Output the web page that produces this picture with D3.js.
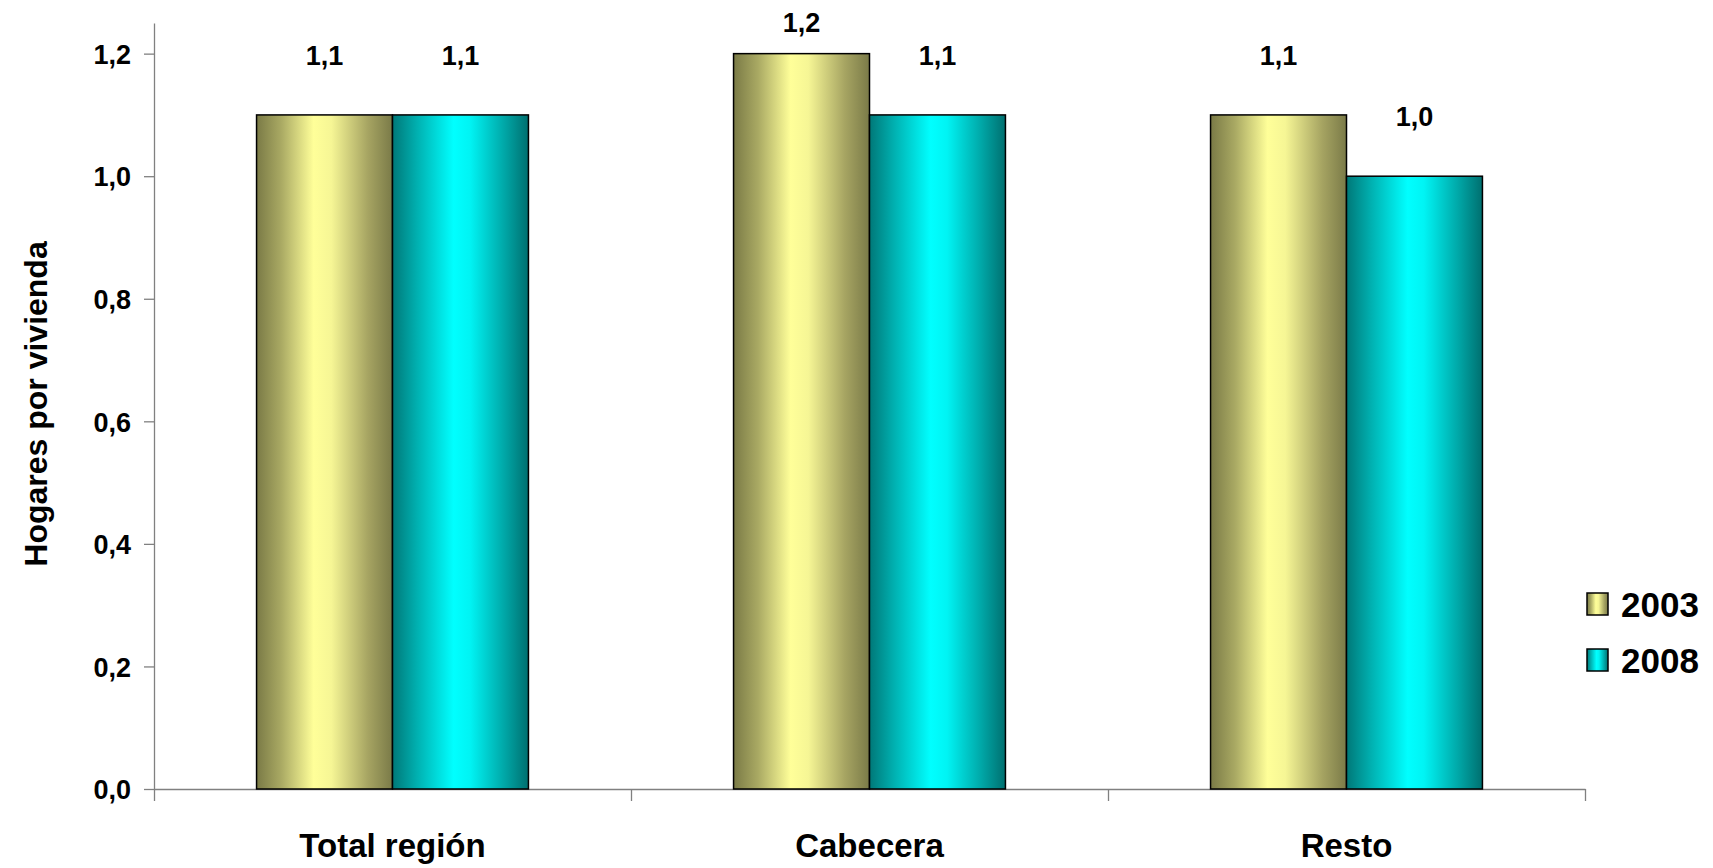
<!DOCTYPE html>
<html><head><meta charset="utf-8">
<script src="https://cdn.jsdelivr.net/npm/d3@7"></script>
<style>html,body{margin:0;padding:0;background:#fff;}svg{display:block;font-family:"Liberation Sans",Arial,sans-serif;font-weight:bold;}</style>
</head><body>
<script>
const categories = ["Total región", "Cabecera", "Resto"];
const seriesNames = ["2003", "2008"];
const values2003 = [1.1, 1.2, 1.1];
const values2008 = [1.1, 1.1, 1.0];
const yTicks = [0, 0.2, 0.4, 0.6, 0.8, 1.0, 1.2];
const yTitle = "Hogares por vivienda";

const W = 1713, H = 868;
const svg = d3.select("body").append("svg").attr("width", W).attr("height", H);
const defs = svg.append("defs");
const grads = {
  "2003": [["0%","#7a7a46"],["18%","#a9a963"],["42%","#ffff99"],["55%","#f6f695"],["82%","#a6a462"],["100%","#7a7a48"]],
  "2008": [["0%","#007878"],["18%","#00b0b0"],["45%","#00ffff"],["57%","#00f4f4"],["82%","#00a8a8"],["100%","#006f6f"]]
};
seriesNames.forEach((s, i) => {
  const g = defs.append("linearGradient").attr("id", "g" + i).attr("x1", 0).attr("x2", 1).attr("y1", 0).attr("y2", 0);
  grads[s].forEach(([o, c]) => g.append("stop").attr("offset", o).attr("stop-color", c));
});

const mLeft = 154, mRight = 1585, mBottom = 789, mTop = 23;
const y = d3.scaleLinear().domain([0, 1.25]).range([mBottom, mTop]);
const xCat = d3.scaleBand().domain(categories).range([mLeft, mRight]).padding(0);
const step = xCat.bandwidth();
const gap = step * 0.43;
const xSer = d3.scaleBand().domain(seriesNames).range([gap / 2, step - gap / 2]).padding(0);

const fmt = v => d3.format(".1f")(v).replace(".", ",");

// Y axis
const yAxis = svg.append("g").attr("transform", `translate(${mLeft},0)`)
  .call(d3.axisLeft(y).tickValues(yTicks).tickSize(10).tickSizeOuter(0).tickFormat(fmt));
yAxis.select(".domain").attr("stroke", "#808080").attr("stroke-width", 1.3);
yAxis.selectAll(".tick line").attr("stroke", "#808080").attr("stroke-width", 1.3);
yAxis.selectAll(".tick text").attr("font-size", 27).attr("font-weight", "bold").attr("fill", "#000")
  .attr("font-family", "'Liberation Sans', Arial, sans-serif").attr("x", -23).attr("dy", "0.36em");

// Bottom axis (category boundaries)
const xb = d3.scaleLinear().domain([0, categories.length]).range([mLeft, mRight]);
const xAxis = svg.append("g").attr("transform", `translate(0,${mBottom})`)
  .call(d3.axisBottom(xb).tickValues(d3.range(categories.length + 1)).tickSize(12).tickSizeOuter(0).tickFormat(""));
xAxis.select(".domain").attr("stroke", "#808080").attr("stroke-width", 1.3);
xAxis.selectAll(".tick line").attr("stroke", "#808080").attr("stroke-width", 1.3);

// Bars
const data = categories.map((c, i) => ({ c, vals: [values2003[i], values2008[i]] }));
const groups = svg.selectAll("g.grp").data(data).join("g").attr("class", "grp")
  .attr("transform", d => `translate(${xCat(d.c)},0)`);
groups.selectAll("rect").data(d => d.vals.map((v, i) => ({ v, s: seriesNames[i], i })))
  .join("rect")
  .attr("x", d => xSer(d.s)).attr("width", xSer.bandwidth())
  .attr("y", d => y(d.v)).attr("height", d => y(0) - y(d.v))
  .attr("fill", d => `url(#g${d.i})`).attr("stroke", "#000").attr("stroke-width", 1.5);
groups.selectAll("text.lbl").data(d => d.vals.map((v, i) => ({ v, s: seriesNames[i] })))
  .join("text").attr("class", "lbl")
  .attr("x", d => xSer(d.s) + xSer.bandwidth() / 2)
  .attr("y", d => Math.max(y(d.v) - 50, 32))
  .attr("text-anchor", "middle").attr("font-size", 27).attr("fill", "#000")
  .text(d => fmt(d.v));

// Category labels
svg.selectAll("text.cat").data(categories).join("text").attr("class", "cat")
  .attr("x", d => xCat(d) + step / 2).attr("y", 857)
  .attr("text-anchor", "middle").attr("font-size", 33).attr("fill", "#000").text(d => d);

// Y title
svg.append("text").attr("transform", "translate(47,404) rotate(-90)")
  .attr("text-anchor", "middle").attr("font-size", 32).attr("fill", "#000").text(yTitle);

// Legend
const leg = svg.append("g").attr("transform", "translate(1587,593)");
seriesNames.forEach((s, i) => {
  const g = leg.append("g").attr("transform", `translate(0,${i * 56})`);
  g.append("rect").attr("width", 21).attr("height", 22).attr("fill", `url(#g${i})`).attr("stroke", "#000").attr("stroke-width", 1.5);
  g.append("text").attr("x", 34).attr("y", 24).attr("font-size", 35).attr("fill", "#000").text(s);
});
</script>
</body></html>
